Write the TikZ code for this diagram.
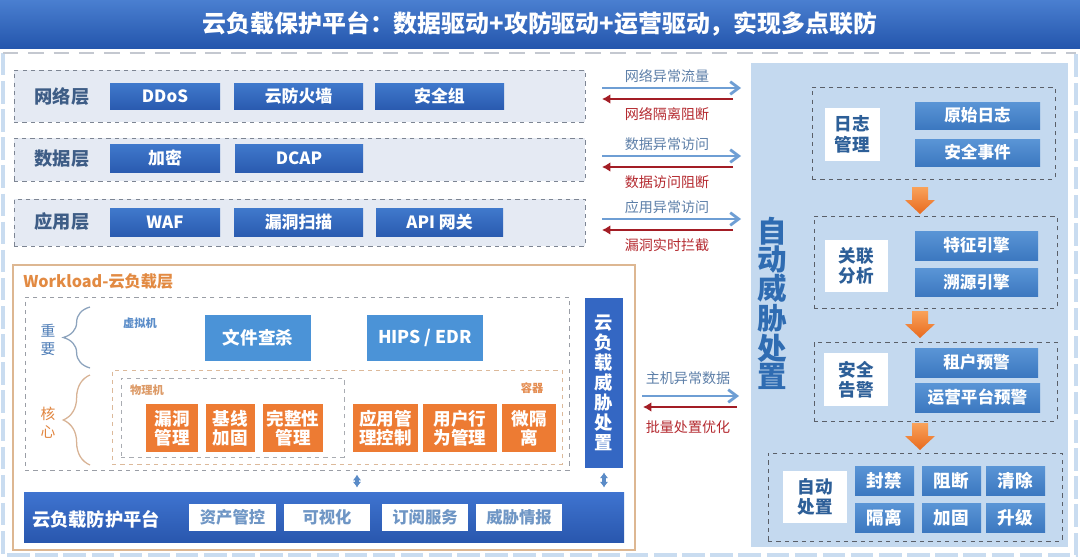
\documentclass[tikz,border=0pt]{standalone}
\usepackage{fontspec}
\setmainfont{Noto Sans CJK SC}
\usetikzlibrary{fit,arrows.meta,decorations.pathreplacing}
\newcommand{\zihao}[2]{\fontsize{#1}{#2}\selectfont}
\definecolor{titletop}{HTML}{4A7FD0}
\definecolor{titlebot}{HTML}{2456AD}
\definecolor{framebl}{HTML}{C9DCF0}
\definecolor{framegr}{HTML}{C4C8D0}
\definecolor{layerfill}{HTML}{E5EAF3}
\definecolor{layerline}{HTML}{7D8593}
\definecolor{layertxt}{HTML}{3E5D86}
\definecolor{lbtntop}{HTML}{4079CC}
\definecolor{lbtnbot}{HTML}{2A5BB0}
\definecolor{upblue}{HTML}{6E9ED4}
\definecolor{uptxt}{HTML}{5D7FA8}
\definecolor{dnred}{HTML}{A31D25}
\definecolor{dntxt}{HTML}{B42A30}
\definecolor{panel}{HTML}{C4D9EF}
\definecolor{grpline}{HTML}{5A5F68}
\definecolor{wlbltxt}{HTML}{2D5F98}
\definecolor{rbtntop}{HTML}{5A95D6}
\definecolor{rbtnbot}{HTML}{3C78C0}
\definecolor{orgtop}{HTML}{F9A25A}
\definecolor{orgbot}{HTML}{E86A1E}
\definecolor{zdtxt}{HTML}{2F6CB2}
\definecolor{wkline}{HTML}{DDB792}
\definecolor{wktxt}{HTML}{E28A42}
\definecolor{vmgray}{HTML}{9A9EA6}
\definecolor{vmtxt}{HTML}{5B8DC9}
\definecolor{hostblue}{HTML}{4B93D7}
\definecolor{ctnline}{HTML}{DCB99A}
\definecolor{phline}{HTML}{A9ACB2}
\definecolor{phtxt}{HTML}{DD9B68}
\definecolor{ctntxt}{HTML}{E48D52}
\definecolor{orgbox}{HTML}{ED7B33}
\definecolor{colblue}{HTML}{3467C3}
\definecolor{bartop}{HTML}{3F74D0}
\definecolor{barbot}{HTML}{2957AE}
\definecolor{wbtxt}{HTML}{6F96C5}
\definecolor{braceA}{HTML}{8CA3BD}
\definecolor{braceB}{HTML}{D8B395}
\definecolor{zytxt}{HTML}{4D7CB6}
\definecolor{hxtxt}{HTML}{E1853F}
\definecolor{dblblue}{HTML}{5A8BC7}

\begin{document}
\begin{tikzpicture}[x=0.025cm, y=-0.025cm,
  layer/.style={draw=layerline, dashed, line width=0.6pt, fill=layerfill, inner sep=0pt},
  layerlbl/.style={text=layertxt, font=\bfseries\zihao{13}{15}, inner sep=0pt},
  lbtn/.style={top color=lbtntop, bottom color=lbtnbot, inner sep=0pt, label={[text=white, font=\bfseries\zihao{12}{14}]center:#1}},
  upar/.style={upblue, line width=2pt, -{Straight Barb[length=6pt,width=9pt]}},
  dnar/.style={dnred, line width=2pt, -{Latex[length=6pt,width=7pt]}},
  uplbl/.style={text=uptxt, font=\zihao{10}{12}, inner sep=0pt},
  dnlbl/.style={text=dntxt, font=\zihao{10}{12}, inner sep=0pt},
  grp/.style={draw=grpline, dashed, line width=0.6pt, inner sep=0pt},
  wlbl/.style={fill=white, inner sep=0pt, label={[text=wlbltxt, align=center, font=\bfseries\zihao{12.5}{14.5}]center:#1}},
  rbtn/.style={top color=rbtntop, bottom color=rbtnbot, inner sep=0pt, label={[text=white, font=\bfseries\zihao{11.8}{14}]center:#1}},
  sbtn/.style={top color=rbtntop, bottom color=rbtnbot, inner sep=0pt, label={[text=white, font=\bfseries\zihao{12.5}{14}]center:#1}},
  hostbtn/.style={fill=hostblue, inner sep=0pt, label={[text=white, font=\bfseries\zihao{12.5}{14}]center:#1}},
  orgbtn/.style={fill=orgbox, inner sep=0pt, label={[text=white, align=center, font=\bfseries\zihao{12.5}{13.5}]center:#1}},
  wbox/.style={fill=white, inner sep=0pt, label={[text=wbtxt, font=\bfseries\zihao{11.6}{14}]center:#1}},
  dblar/.style={dblblue, line width=2.2pt, {Latex[length=4pt,width=6pt]}-{Latex[length=4pt,width=6pt]}, shorten <=3pt, shorten >=3pt}]
\useasboundingbox (0,0) rectangle (1080,559);

% 标题
\node[fit={(0,0) (1080,48)}, inner sep=0pt, top color=titletop, bottom color=titlebot] (title) {};
\node[text=white, font=\bfseries\zihao{17}{20}] (titletxt) at (title.center) {云负载保护平台：数据驱动+攻防驱动+运营驱动，实现多点联防};

% 外框
\draw[framebl, line width=3pt, dash pattern=on 16pt off 4pt] (3,53) -- (3,555) -- (1076,555) -- (1076,53);
\draw[framegr, line width=1.2pt, dash pattern=on 11pt off 7pt] (3,53) -- (1076,53);

% 网络层 / 数据层 / 应用层
\node[layer, fit={(14,70) (585,122)}] (wangluo) {};
\node[layer, fit={(14,138) (585,181)}] (shuju) {};
\node[layer, fit={(14,199) (585,246)}] (yingyong) {};
\node[layerlbl] (wllbl) at (62,97) {网络层};
\node[layerlbl] (sjlbl) at (62,159) {数据层};
\node[layerlbl] (yylbl) at (62,222) {应用层};

\node[lbtn=DDoS, fit={(110,83) (220,109)}] (ddos) {};
\node[lbtn=云防火墙, fit={(234,83) (363,109)}] (yfhq) {};
\node[lbtn=安全组, fit={(375,83) (504,109)}] (aqz) {};
\node[lbtn=加密, fit={(110,144) (220,172)}] (jiami) {};
\node[lbtn=DCAP, fit={(235,144) (363,172)}] (dcap) {};
\node[lbtn=WAF, fit={(110,208) (220,236)}] (waf) {};
\node[lbtn=漏洞扫描, fit={(234,208) (363,236)}] (ldsm) {};
\node[lbtn={API 网关}, fit={(376,208) (503,236)}] (apiwg) {};

% 中间双向箭头
\foreach \ya/\ta/\tb [count=\i] in {88/网络异常流量/网络隔离阻断, 156/数据异常访问/数据访问阻断, 219/应用异常访问/漏洞实时拦截}{
  \coordinate (ul\i) at (602,\ya);
  \coordinate (ur\i) at (741,\ya);
  \coordinate (dr\i) at (733,\ya+11);
  \coordinate (dl\i) at (602,\ya+11);
  \draw[upar] (ul\i) -- (ur\i);
  \draw[dnar] (dr\i) -- (dl\i);
  \node[uplbl] (ut\i) at (667,\ya-12) {\ta};
  \node[dnlbl] (dt\i) at (667,\ya+26) {\tb};
}
\coordinate (ul4) at (642,396);
\coordinate (ur4) at (739,396);
\coordinate (dr4) at (737,407);
\coordinate (dl4) at (643,407);
\draw[upar] (ul4) -- (ur4);
\draw[dnar] (dr4) -- (dl4);
\node[uplbl] (ut4) at (688,378) {主机异常数据};
\node[dnlbl] (dt4) at (688,427) {批量处置优化};

% 右侧：自动威胁处置
\node[fit={(751,63) (1068,547)}, inner sep=0pt, fill=panel] (zdpanel) {};
\node[text=zdtxt, align=center, font=\bfseries\zihao{21}{20}] (zdwx) at (772,303) {自\\动\\威\\胁\\处\\置};

\node[grp, fit={(812,87) (1055,179)}] (g1) {};
\node[grp, fit={(814,216) (1057,308)}] (g2) {};
\node[grp, fit={(814,342) (1057,421)}] (g3) {};
\node[grp, fit={(768,453) (1062,541)}] (g4) {};

\node[wlbl={日志\\管理}, fit={(825,108) (880,161)}] (rzgl) {};
\node[wlbl={关联\\分析}, fit={(825,240) (888,292)}] (glfx) {};
\node[wlbl={安全\\告警}, fit={(824,353) (888,406)}] (aqgj) {};
\node[wlbl={自动\\处置}, fit={(783,471) (847,523)}] (zdcz) {};

\node[rbtn=原始日志, fit={(915,102) (1040,129)}] (ysrz) {};
\node[rbtn=安全事件, fit={(915,139) (1040,166)}] (aqsj) {};
\node[rbtn=特征引擎, fit={(915,231) (1038,260)}] (tzyq) {};
\node[rbtn=溯源引擎, fit={(915,268) (1038,296)}] (syyq) {};
\node[rbtn=租户预警, fit={(915,348) (1038,377)}] (zhyj) {};
\node[rbtn=运营平台预警, fit={(915,383) (1040,412)}] (yyyj) {};

\node[sbtn=封禁, fit={(855,466) (914,495)}] (fengjin) {};
\node[sbtn=阻断, fit={(922,466) (981,495)}] (zuduan) {};
\node[sbtn=清除, fit={(986,466) (1045,495)}] (qingchu) {};
\node[sbtn=隔离, fit={(855,503) (914,532)}] (geli) {};
\node[sbtn=加固, fit={(922,503) (981,532)}] (jiagu) {};
\node[sbtn=升级, fit={(986,503) (1045,532)}] (shengji) {};

% 橙色下箭头
\foreach \ya in {187,311,423}{
  \shade[top color=orgtop, bottom color=orgbot] (912,\ya) -- (928,\ya) -- (928,\ya+13) -- (935,\ya+13) -- (920,\ya+27) -- (905,\ya+13) -- (912,\ya+13) -- cycle;
}

% Workload 云负载层
\node[fit={(13,265) (635,550)}, inner sep=0pt, draw=wkline, line width=0.8pt, fill=white] (workload) {};
\node[anchor=west, inner sep=0pt, text=wktxt, font=\bfseries\zihao{11.5}{14}] (wklbl) at (23,281) {Workload-云负载层};
\node[fit={(25,297) (569,470)}, inner sep=0pt, draw=vmgray, dashed, line width=0.6pt] (xuni) {};
\node[text=vmtxt, font=\bfseries\zihao{8}{10}, inner sep=0pt] (vmlbl) at (140,323) {虚拟机};
\node[hostbtn=文件查杀, fit={(205,315) (311,361)}] (wjcs) {};
\node[hostbtn={HIPS / EDR}, fit={(367,315) (483,361)}] (hips) {};

\node[fit={(112,370) (562,464)}, inner sep=0pt, draw=ctnline, dashed, line width=0.6pt] (hexin) {};
\node[fit={(121,378) (344,457)}, inner sep=0pt, draw=phline, dashed, line width=0.6pt] (wuli) {};
\node[text=phtxt, font=\bfseries\zihao{8}{10}, inner sep=0pt] (wllbl2) at (147,390) {物理机};
\node[text=ctntxt, font=\bfseries\zihao{8}{10}, inner sep=0pt] (rqlbl) at (532,388) {容器};

\node[orgbtn={漏洞\\管理}, fit={(146,404) (198,452)}] (ldgl) {};
\node[orgbtn={基线\\加固}, fit={(206,404) (255,452)}] (jxjg) {};
\node[orgbtn={完整性\\管理}, fit={(263,404) (323,452)}] (wzxgl) {};
\node[orgbtn={应用管\\理控制}, fit={(353,404) (418,452)}] (yygl) {};
\node[orgbtn={用户行\\为管理}, fit={(423,404) (497,452)}] (yhxw) {};
\node[orgbtn={微隔\\离}, fit={(502,404) (556,452)}] (wgl) {};

% 重要 / 核心
\draw[braceA, line width=0.9pt, decorate, decoration={brace, amplitude=19pt}] (90,368) -- (90,307);
\draw[braceB, line width=0.9pt, decorate, decoration={brace, amplitude=19pt}] (90,465) -- (90,375);
\node[text=zytxt, align=center, font=\zihao{10.5}{12.5}] (zhongyao) at (48,340) {重\\要};
\node[text=hxtxt, align=center, font=\zihao{10.5}{12.5}] (hexinlbl) at (48,423) {核\\心};

\node[fit={(585,298) (623,468)}, inner sep=0pt, fill=colblue] (wxcz) {};
\node[text=white, align=center, font=\bfseries\zihao{13}{14.2}] (wxcztxt) at (wxcz.center) {云\\负\\载\\威\\胁\\处\\置};

% 云负载防护平台
\node[fit={(24,492) (624,542)}, inner sep=0pt, top color=bartop, bottom color=barbot] (ptbar) {};
\node[text=white, font=\bfseries\zihao{13}{15}, inner sep=0pt] (ptlbl) at (96,519) {云负载防护平台};
\node[wbox=资产管控, fit={(189,504) (276,531)}] (zcgk) {};
\node[wbox=可视化, fit={(284,504) (370,531)}] (ksh) {};
\node[wbox=订阅服务, fit={(382,504) (468,531)}] (dyfw) {};
\node[wbox=威胁情报, fit={(476,504) (562,531)}] (wxqb) {};

\coordinate (d1) at (357,480);
\draw[dblar] (d1 |- xuni.south) -- (d1 |- ptbar.north);
\draw[dblar] (wxcz.south) -- (wxcz.south |- ptbar.north);
\end{tikzpicture}
\end{document}
